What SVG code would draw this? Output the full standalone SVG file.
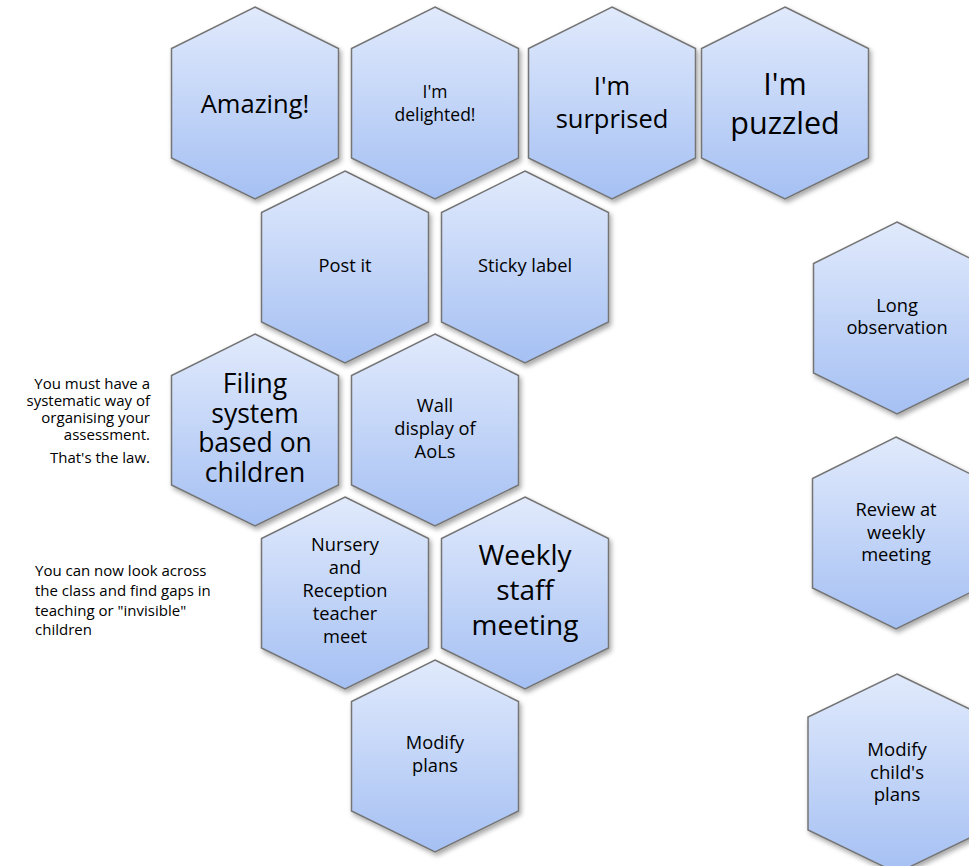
<svg xmlns="http://www.w3.org/2000/svg" width="969" height="866" viewBox="0 0 969 866">
<defs>
<linearGradient id="hexfill" x1="0" y1="0" x2="0" y2="1">
<stop offset="0" stop-color="#e1eafc"/>
<stop offset="1" stop-color="#a5c0f3"/>
</linearGradient>
<filter id="shadow" x="-10%" y="-10%" width="125%" height="125%">
<feDropShadow dx="2" dy="3" stdDeviation="2.5" flood-color="#000" flood-opacity="0.35"/>
</filter>
<polygon id="hex" points="0,0 83.5,41.5 83.5,151 0,192 -83.5,151 -83.5,41.5"/>
</defs>
<style>
.hex{fill:url(#hexfill);stroke:#757575;stroke-width:1.5;filter:url(#shadow)}
.t{font-family:"Open Sans","Liberation Sans",sans-serif;fill:#000;text-anchor:middle}
.s{font-size:18.3px}
.m{font-size:25.5px}
.side{font-family:"Open Sans","Liberation Sans",sans-serif;fill:#000;font-size:15px}
</style>
<rect width="969" height="866" fill="#ffffff"/>
<g id="connectors"/>
<g id="amazing" transform="translate(255,7)">
<use href="#hex" class="hex"/>
<text class="t m" x="0" y="106">Amazing!</text>
</g>
<g id="delighted" transform="translate(435,7)">
<use href="#hex" class="hex"/>
<text class="t" style="font-size:17.5px" x="0" y="91">I'm</text>
<text class="t" style="font-size:17.5px" x="0" y="114">delighted!</text>
</g>
<g id="surprised" transform="translate(612,7)">
<use href="#hex" class="hex"/>
<text class="t m" x="0" y="88">I'm</text>
<text class="t m" x="0" y="121">surprised</text>
</g>
<g id="puzzled" transform="translate(785,7)">
<use href="#hex" class="hex"/>
<text class="t" style="font-size:30.5px" x="0" y="88">I'm</text>
<text class="t" style="font-size:30.5px" x="0" y="126.5">puzzled</text>
</g>
<g id="postit" transform="translate(345,171)">
<use href="#hex" class="hex"/>
<text class="t s" x="0" y="101">Post it</text>
</g>
<g id="sticky" transform="translate(525,171)">
<use href="#hex" class="hex"/>
<text class="t s" x="0" y="101">Sticky label</text>
</g>
<g id="filing" transform="translate(255,334)">
<use href="#hex" class="hex"/>
<text class="t" style="font-size:26.5px" x="0" y="59">Filing</text>
<text class="t" style="font-size:26.5px" x="0" y="88.5">system</text>
<text class="t" style="font-size:26.5px" x="0" y="118">based on</text>
<text class="t" style="font-size:26.5px" x="0" y="147.5">children</text>
</g>
<g id="wall" transform="translate(435,334)">
<use href="#hex" class="hex"/>
<text class="t s" x="0" y="78">Wall</text>
<text class="t s" x="0" y="101">display of</text>
<text class="t s" x="0" y="124">AoLs</text>
</g>
<g id="nursery" transform="translate(345,497)">
<use href="#hex" class="hex"/>
<text class="t s" x="0" y="54">Nursery</text>
<text class="t s" x="0" y="77">and</text>
<text class="t s" x="0" y="100">Reception</text>
<text class="t s" x="0" y="123">teacher</text>
<text class="t s" x="0" y="146">meet</text>
</g>
<g id="weekly" transform="translate(525,497)">
<use href="#hex" class="hex"/>
<text class="t" style="font-size:28px" x="0" y="68">Weekly</text>
<text class="t" style="font-size:28px" x="0" y="103">staff</text>
<text class="t" style="font-size:28px" x="0" y="138">meeting</text>
</g>
<g id="modifyplans" transform="translate(435,660)">
<use href="#hex" class="hex"/>
<text class="t s" x="0" y="89">Modify</text>
<text class="t s" x="0" y="112">plans</text>
</g>
<g id="longobs" transform="translate(897,222)">
<use href="#hex" class="hex"/>
<text class="t s" x="0" y="90">Long</text>
<text class="t s" x="0" y="112">observation</text>
</g>
<g id="review" transform="translate(896,437)">
<use href="#hex" class="hex"/>
<text class="t s" x="0" y="79">Review at</text>
<text class="t s" x="0" y="101.5">weekly</text>
<text class="t s" x="0" y="124">meeting</text>
</g>
<g id="modchild" transform="translate(897,674)">
<polygon class="hex" points="0,0 89,43 89,156 0,199 -89,156 -89,43"/>
<text class="t" style="font-size:18.6px" x="0" y="82">Modify</text>
<text class="t" style="font-size:18.6px" x="0" y="104.5">child's</text>
<text class="t" style="font-size:18.6px" x="0" y="127">plans</text>
</g>
<g id="note1" class="side" text-anchor="end">
<text x="150" y="389">You must have a</text>
<text x="150" y="406">systematic way of</text>
<text x="150" y="423">organising your</text>
<text x="150" y="440">assessment.</text>
<text x="150" y="463">That's the law.</text>
</g>
<g id="note2" class="side">
<text x="35" y="576">You can now look across</text>
<text x="35" y="596">the class and find gaps in</text>
<text x="35" y="615.5">teaching or "invisible"</text>
<text x="35" y="635">children</text>
</g>
</svg>
